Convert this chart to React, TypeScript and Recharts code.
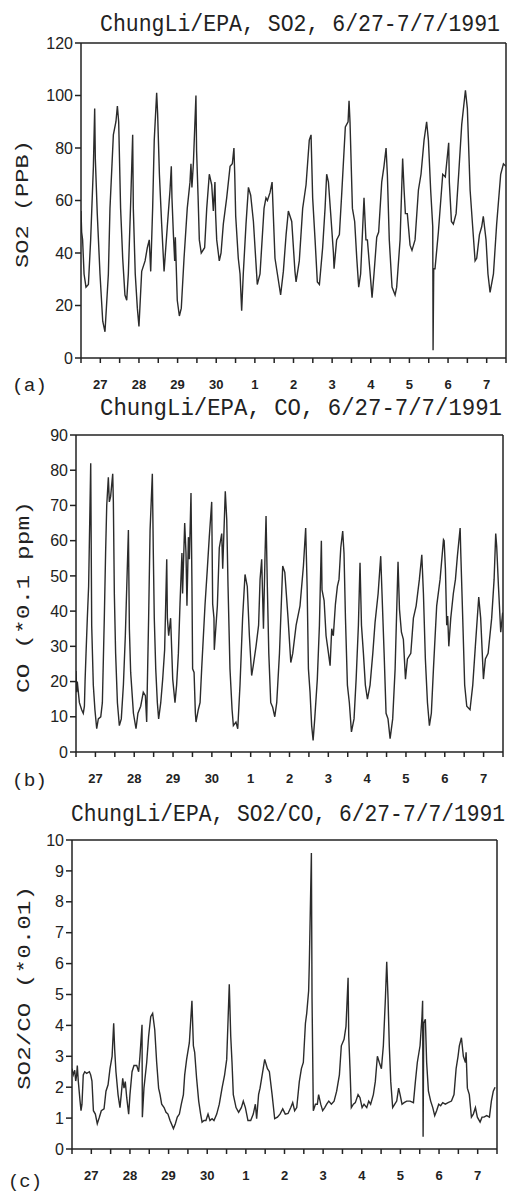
import React from 'react';
import { LineChart, Line, XAxis, YAxis, ReferenceLine } from 'recharts';

// x is hours since 6/27 00:00
const DAY_LABELS = ['27', '28', '29', '30', '1', '2', '3', '4', '5', '6', '7'];
const HALF_DAY_TICKS = [0, 12, 24, 36, 48, 60, 72, 84, 96, 108, 120, 132, 144, 156, 168, 180, 192, 204, 216, 228, 240, 252, 264];

const SO2_TICKS = [0, 20, 40, 60, 80, 100, 120];
const CO_TICKS = [0, 10, 20, 30, 40, 50, 60, 70, 80, 90];
const RATIO_TICKS = [0, 1, 2, 3, 4, 5, 6, 7, 8, 9, 10];

const SO2_POINTS: [number, number][] = [
  [0, 56], [0.4, 48], [1, 45], [1.9, 32], [3.1, 27], [4.6, 28], [6, 45], [7.7, 73], [8.5, 95], [8.9, 76],
  [10.1, 55], [11.8, 32], [13.5, 14], [14.9, 10], [17, 32], [18, 57], [20.1, 85], [21.7, 90], [22.6, 96], [23.4, 90],
  [24.6, 57], [25.9, 38], [27.3, 24], [28.4, 22], [29.4, 32], [30.9, 60], [32.1, 85], [32.5, 57], [33.7, 32], [35, 19],
  [36, 12], [37.7, 33], [39.8, 37], [41.2, 42], [42.4, 45], [43.3, 33], [44.5, 57], [45.5, 83], [47, 101], [47.6, 93],
  [48.7, 70], [50.1, 51], [51.6, 33], [53.6, 50], [55.3, 64], [56.1, 73], [56.5, 61], [57.4, 47], [58.2, 37], [58.6, 46],
  [59, 38], [59.8, 22], [61.1, 16], [62.3, 19], [64, 38], [66, 57], [67.7, 67], [68.3, 74], [68.9, 65], [69.8, 74],
  [71.4, 100], [71.8, 79], [72.7, 62], [73.5, 45], [74.7, 40], [76.8, 42], [78.1, 57], [79.7, 70], [81.2, 66], [82.2, 56],
  [83.2, 67], [83.6, 55], [84.3, 45], [85.9, 37], [87, 40], [88.4, 51], [90.5, 61], [92.6, 73], [94, 74], [95, 80],
  [95.5, 70], [96.1, 54], [97.7, 38], [98.8, 32], [99.8, 18], [100.8, 32], [102.5, 51], [104, 65], [105.4, 62], [107.1, 52],
  [108.5, 38], [109.5, 28], [111.2, 32], [113.7, 57], [114.9, 61], [115.8, 60], [117.4, 63], [118.7, 67], [119.5, 54], [120.5, 38],
  [122, 32], [124, 24], [125.7, 33], [127.4, 47], [128.8, 56], [130.9, 52], [132.9, 33], [133.6, 29], [135.6, 37], [137.7, 57],
  [139.8, 66], [141.8, 83], [142.9, 85], [143.9, 61], [145.4, 45], [146.8, 29], [148.1, 28], [150.1, 42], [151.6, 57], [152.6, 70],
  [153.7, 67], [155.1, 55], [156.8, 40], [157.2, 34], [158.8, 45], [160.5, 47], [161.9, 62], [164.2, 88], [165.9, 90], [166.5, 98],
  [167.1, 90], [168.6, 57], [170, 52], [171.3, 38], [172.5, 27], [173.7, 32], [175.8, 61], [177, 45], [177.9, 45], [179.5, 33],
  [180.8, 23], [182, 32], [183.7, 46], [184.9, 48], [186.8, 67], [188.2, 73], [189.5, 80], [190.3, 70], [191.5, 45], [193.2, 27],
  [195.1, 24], [196.1, 27], [198.2, 45], [199.8, 76], [200.7, 64], [201.5, 55], [202.7, 55], [204.4, 43], [205.6, 41], [207.5, 45],
  [209.6, 64], [211.2, 70], [213.1, 83], [214.7, 90], [215.8, 83], [217.2, 64], [218.5, 50], [218.7, 3], [219.1, 34], [219.9, 34],
  [222, 48], [224.7, 70], [226.3, 69], [228.4, 82], [228.8, 67], [230.1, 52], [231.3, 51], [233, 55], [234.6, 70], [236.5, 89],
  [238.8, 102], [240, 95], [241.7, 64], [243.3, 50], [244.8, 37], [245.8, 38], [247.5, 47], [248.9, 50], [249.9, 54], [251.6, 45],
  [252.8, 32], [254.1, 25], [256.2, 32], [258.2, 51], [260.7, 70], [262.4, 74], [264, 73],
];

const CO_POINTS: [number, number][] = [
  [0, 23], [0.4, 17], [0.8, 20], [2.1, 14], [3.5, 12], [4.5, 11], [5.2, 13], [5.6, 20], [6.2, 28], [7, 38],
  [7.8, 47], [9.1, 82], [9.7, 36], [10.7, 19], [11.7, 12], [12.8, 6.6], [13.8, 9.4], [15.3, 10], [16.3, 14], [17.5, 38],
  [18.3, 56.5], [19, 70], [20, 78], [20.6, 71], [21.4, 72.5], [22.7, 79], [23.1, 71], [23.7, 45], [24.5, 28], [25.6, 14],
  [26.8, 7.5], [28, 9.4], [29.3, 19], [30.5, 33], [32.4, 63], [33, 35], [33.8, 22.6], [35.5, 11], [37.1, 6.6], [38.3, 11],
  [40, 13], [41.6, 17], [42.9, 16], [43.7, 8.5], [44.1, 19], [44.9, 38], [45.8, 63], [47.2, 79], [47.8, 56.5], [48.4, 38],
  [49.3, 23.6], [50.3, 14], [51.1, 9.4], [52.4, 14], [53.6, 20.7], [54.8, 29], [56.1, 54.7], [56.5, 38], [57.3, 33], [58.5, 38],
  [59.8, 20.7], [61.2, 14], [62.2, 19], [63.3, 28], [64.3, 42], [65.5, 56.5], [65.9, 45], [67.2, 65], [68, 56.5], [68.6, 41.5],
  [69.5, 61], [70.1, 54.7], [71.1, 73.5], [71.7, 47], [72.1, 23.6], [73, 22.6], [73.8, 11], [74.2, 8.5], [75.6, 12], [76.7, 14],
  [77.7, 23.6], [79.8, 42], [81.2, 52], [82.4, 61], [83.9, 71], [84.5, 42], [85.3, 38], [85.5, 29], [87.4, 41.5], [88.6, 58],
  [90.1, 62], [90.7, 52], [92.3, 74], [93.2, 66], [94, 47], [95.2, 23.6], [96.5, 12], [97.3, 7.5], [98.9, 8.5], [100, 6.6],
  [101.4, 19], [103, 38], [104.5, 50.4], [105.9, 47], [107.2, 33], [108.6, 21.7], [109.6, 24.5], [111.3, 30], [112.9, 36], [113.8, 49],
  [114.8, 54.7], [115.9, 35], [116.9, 56.5], [117.5, 67], [118.3, 47], [119.2, 28], [120.4, 14], [121.6, 12.7], [122.9, 10], [124.1, 14],
  [125.8, 28], [127.8, 52.8], [129.1, 51], [131.1, 38], [132.8, 25.4], [134, 28], [136.1, 36], [138.5, 41.5], [140.6, 52.8], [142, 63.6],
  [142.9, 47], [143.7, 23.6], [144.7, 17], [145.7, 7.5], [146.6, 3.3], [147.6, 9.4], [149.2, 20.7], [150.5, 36], [151.7, 60], [152.1, 46],
  [153.4, 43], [154.6, 33], [156.1, 28], [157.1, 24.5], [158.1, 35], [159.1, 33], [160.4, 42], [161.6, 47], [162.6, 49], [163.7, 58],
  [164.9, 62.7], [165.7, 56.5], [166.6, 38], [167.8, 19], [169, 14], [170.3, 5.7], [171.9, 9.4], [173.2, 20.7], [174.6, 36], [175.6, 53.7],
  [176.5, 36], [177.7, 28], [178.9, 19], [180.2, 15], [181.8, 19], [183.5, 28], [184.9, 36.8], [186.8, 45], [188.4, 55.6], [189.2, 45],
  [190.5, 28], [191.7, 11], [192.9, 9.4], [194.2, 3.8], [195.8, 9.4], [197.3, 23.6], [199.1, 54], [200, 40.5], [201.2, 34], [202.4, 32],
  [203.7, 20.7], [204.9, 26.4], [207, 28], [208.6, 38], [210.3, 41.5], [212.3, 49], [213.8, 56], [214.8, 45], [216, 26.4], [217.3, 14],
  [218.5, 7.5], [219.7, 11], [221, 23.6], [223, 41.5], [225.1, 49], [227.2, 60.3], [227.6, 60], [228.4, 52], [229.2, 36], [229.8, 38.6],
  [230.5, 30], [231.7, 38], [233.3, 45], [234.6, 49], [235.8, 55.6], [237.5, 63.6], [237.9, 56.5], [239.1, 38], [240.3, 19], [241.6, 13],
  [243.6, 12], [245.3, 19], [246.9, 30], [249, 44], [250.2, 38], [251.9, 20.7], [253.1, 26.4], [254.8, 28], [257, 38], [258.5, 49],
  [259.5, 62], [260.1, 58.4], [261.2, 47], [262.6, 34], [263.8, 39.6],
];

const RATIO_POINTS: [number, number][] = [
  [0, 2.6], [0.8, 2.4], [1.7, 2.55], [2.3, 2.2], [2.9, 2.4], [3.3, 2.7], [3.9, 2.2], [5, 1.55], [5.6, 1.24], [6.2, 1.45],
  [7, 2.4], [7.9, 2.5], [9.1, 2.45], [10.8, 2.5], [11.6, 2.4], [12.4, 2.2], [13.3, 1.24], [14.5, 1.13], [15.7, 0.82], [17, 1.03],
  [18.2, 1.24], [19.9, 1.3], [21.1, 1.87], [22.4, 2.08], [23.6, 2.6], [24.9, 3.0], [25.9, 4.07], [26.5, 3.23], [27.3, 2.5], [28.6, 1.76],
  [29.8, 1.34], [30.6, 1.76], [31.5, 2.29], [32.3, 1.97], [33.1, 2.18], [34, 1.66], [35.2, 1.13], [36, 1.76], [37.3, 2.5], [38.5, 2.7],
  [40.2, 2.7], [41.4, 2.5], [42.2, 3.0], [43.5, 4.02], [43.7, 1.03], [44.7, 1.97], [46.4, 2.8], [47.6, 3.65], [48.9, 4.28], [50.1, 4.39],
  [51.4, 3.86], [52.6, 2.8], [53.8, 1.97], [54.7, 1.76], [55.7, 1.45], [57.2, 1.34], [58.4, 1.19], [59.6, 1.13], [60.9, 0.92], [63, 0.66],
  [64.2, 0.82], [65.4, 1.03], [66.7, 1.13], [67.9, 1.45], [69.2, 1.76], [70, 2.4], [71.2, 2.9], [72.9, 3.44], [74.5, 4.8], [75.4, 3.34],
  [76.2, 3.13], [77.4, 2.29], [78.7, 1.55], [79.9, 1.13], [80.8, 0.87], [82, 0.92], [83.2, 0.92], [84.5, 1.13], [85.7, 0.92], [87, 0.98],
  [88.2, 0.92], [89.9, 1.13], [91.5, 1.45], [93.2, 1.97], [94.8, 2.4], [96.1, 2.9], [97.7, 5.33], [98.6, 3.65], [99.4, 2.8], [100.2, 1.76],
  [101.9, 1.34], [103.5, 1.19], [105.2, 1.34], [106.4, 1.55], [107.7, 1.34], [109.3, 0.92], [111, 0.92], [112.6, 1.13], [113.9, 1.45], [114.7, 0.98],
  [115.9, 1.76], [116.8, 1.97], [119.7, 2.9], [121.4, 2.6], [122.6, 2.5], [124.3, 1.76], [125.9, 0.98], [127.6, 1.03], [129.2, 1.13], [130.9, 1.3],
  [132.5, 1.13], [134.2, 1.15], [135.9, 1.34], [137.1, 1.5], [138.3, 1.24], [139.6, 1.34], [141.2, 2.18], [142.5, 2.6], [143.7, 2.8], [145, 4.07],
  [145.8, 4.39], [147, 5.12], [147.4, 5.96], [148.7, 9.58], [149.1, 4.9], [149.9, 1.24], [151.2, 1.45], [152.4, 1.45], [153.2, 1.76], [154.5, 1.45],
  [155.7, 1.24], [157, 1.34], [158.2, 1.45], [159.5, 1.55], [161.1, 1.45], [162.8, 1.55], [164.4, 1.87], [166.1, 2.4], [167.3, 3.34], [169, 3.55],
  [170.2, 3.97], [171.5, 5.54], [171.9, 3.65], [172.7, 2.6], [173.5, 1.34], [174.8, 1.45], [176, 1.5], [177.7, 1.76], [178.9, 1.66], [180.2, 1.34],
  [181.4, 1.45], [183.1, 1.34], [184.3, 1.55], [185.5, 1.45], [187.2, 1.76], [188.4, 2.18], [189.7, 3.0], [190.9, 2.8], [192.2, 2.6], [193.4, 3.34],
  [194.7, 4.9], [195.5, 6.06], [196.3, 4.9], [197.1, 3.34], [198, 2.18], [199.2, 1.34], [200.5, 1.45], [201.7, 1.55], [202.9, 1.97], [203.8, 1.76],
  [205, 1.45], [206.3, 1.5], [207.9, 1.55], [210, 1.55], [212.1, 1.5], [213.3, 2.18], [214.5, 2.8], [216.2, 3.34], [217.4, 4.28], [217.8, 4.8],
  [218.1, 0.4], [218.5, 4.07], [219.5, 4.2], [220.3, 2.8], [221.4, 1.87], [222.8, 1.55], [224.1, 1.34], [225.3, 1.08], [226.5, 1.24], [227.8, 1.45],
  [229, 1.4], [230.3, 1.5], [231.9, 1.45], [233.6, 1.5], [235.7, 1.55], [237.3, 1.76], [238.6, 2.6], [239.8, 3.0], [240.6, 3.34], [241.9, 3.6],
  [243.1, 3.0], [244.4, 2.8], [244.8, 3.13], [245.6, 1.97], [246.8, 1.76], [248.1, 1.03], [249.3, 1.13], [250.6, 1.34], [251.8, 1.03], [253.5, 0.87],
  [254.7, 1.03], [255.9, 1.03], [257.6, 1.08], [259.3, 1.03], [260.5, 1.55], [261.7, 1.87], [262.8, 2.0],
];

const INK = '#222';
const MONO = '"Liberation Mono", "DejaVu Sans Mono", monospace';
const SANS = '"Liberation Sans", Arial, sans-serif';

// only the mid-day ticks carry a day label
const DayTick = (props: any) => {
  const { x, y, payload } = props;
  const i = (payload.value - 12) / 24;
  if (!Number.isInteger(i)) return <g />;
  return (
    <text x={x} y={y} dy={24} textAnchor="middle" fontSize={13} fontWeight="bold" fontFamily={SANS} fill={INK}>
      {DAY_LABELS[i]}
    </text>
  );
};

type PanelProps = {
  top: number;
  height: number;
  marginTop: number;
  yWidth: number;
  rightMargin: number;
  points: [number, number][];
  yMax: number;
  yTicks: number[];
};

const Panel = ({ top, height, marginTop, yWidth, rightMargin, points, yMax, yTicks }: PanelProps) => {
  const data = points.map(([h, v]) => ({ h, v }));
  return (
    <div style={{ position: 'absolute', top, left: 0 }}>
      <LineChart width={508} height={height} data={data} margin={{ top: marginTop, right: rightMargin, bottom: 0, left: 0 }}>
        <XAxis
          dataKey="h" type="number" domain={[0, 264]} ticks={HALF_DAY_TICKS} interval={0}
          tick={<DayTick />} tickSize={5} tickMargin={2} height={45}
          stroke={INK} strokeWidth={1.5} allowDataOverflow
        />
        <YAxis
          type="number" domain={[0, yMax]} ticks={yTicks} interval={0} width={yWidth}
          tickSize={6} tickMargin={2} stroke={INK} strokeWidth={1.5}
          tick={{ fontSize: 16, fill: INK, fontFamily: SANS }} allowDataOverflow
        />
        <ReferenceLine y={yMax} stroke={INK} strokeWidth={1.5} />
        <ReferenceLine x={264} stroke={INK} strokeWidth={1.5} />
        <Line dataKey="v" type="linear" stroke="#2b2b2b" strokeWidth={1.4} dot={false} isAnimationActive={false} />
      </LineChart>
    </div>
  );
};

// titles are drawn at 21px and stretched vertically to match the tall, narrow plotter lettering
const Title = ({ x, y, width, children }: { x: number; y: number; width: number; children: string }) => (
  <g transform={`translate(${x},${y}) scale(1,1.18)`}>
    <text x={0} y={0} fontSize={21} textLength={width} lengthAdjust="spacingAndGlyphs">{children}</text>
  </g>
);

const Labels = () => (
  <svg width={508} height={1194} style={{ position: 'absolute', top: 0, left: 0, pointerEvents: 'none' }}>
    <g fontFamily={MONO} fill={INK}>
      <Title x={100} y={31} width={400}>ChungLi/EPA, SO2, 6/27-7/7/1991</Title>
      <Title x={100} y={415} width={402}>ChungLi/EPA, CO, 6/27-7/7/1991</Title>
      <Title x={71} y={821} width={434}>ChungLi/EPA, SO2/CO, 6/27-7/7/1991</Title>

      <text transform="translate(28,204) rotate(-90)" textAnchor="middle" fontSize={19} textLength={128} lengthAdjust="spacingAndGlyphs">SO2 (PPB)</text>
      <text transform="translate(29,597) rotate(-90)" textAnchor="middle" fontSize={19} textLength={192} lengthAdjust="spacingAndGlyphs">CO (*0.1 ppm)</text>
      <text transform="translate(30,988) rotate(-90)" textAnchor="middle" fontSize={19} textLength={204} lengthAdjust="spacingAndGlyphs">SO2/CO (*0.01)</text>

      <text x={12} y={391} fontSize={18} textLength={35} lengthAdjust="spacingAndGlyphs">(a)</text>
      <text x={12} y={786} fontSize={18} textLength={35} lengthAdjust="spacingAndGlyphs">(b)</text>
      <text x={8} y={1187} fontSize={18} textLength={34} lengthAdjust="spacingAndGlyphs">(c)</text>
    </g>
  </svg>
);

export default function App() {
  return (
    <div style={{ position: 'absolute', top: 0, left: 0, width: 508, height: 1194, background: '#fff', overflow: 'hidden' }}>
      <Panel top={0} height={403} marginTop={43} yWidth={81} rightMargin={2} points={SO2_POINTS} yMax={120} yTicks={SO2_TICKS} />
      <Panel top={400} height={397} marginTop={35} yWidth={76} rightMargin={5} points={CO_POINTS} yMax={90} yTicks={CO_TICKS} />
      <Panel top={800} height={394} marginTop={40} yWidth={72} rightMargin={11} points={RATIO_POINTS} yMax={10} yTicks={RATIO_TICKS} />
      <Labels />
    </div>
  );
}
